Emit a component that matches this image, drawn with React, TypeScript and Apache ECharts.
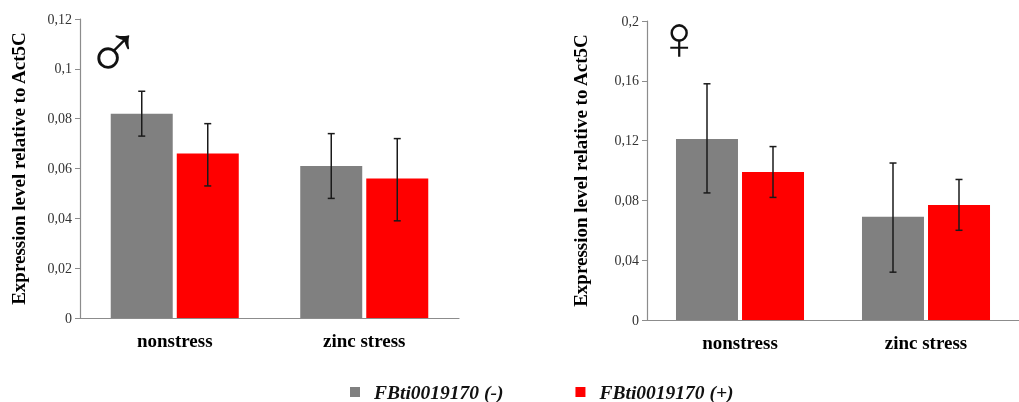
import React, { useEffect, useRef } from "react";
import * as echarts from "echarts";

const categories = ["nonstress", "zinc stress"];
const seriesNames = ["FBti0019170 (-)", "FBti0019170 (+)"];

// Male panel
const maleMinus = [0.082, 0.061];
const malePlus = [0.066, 0.056];
const maleMinusLow = [0.073, 0.048];
const maleMinusHigh = [0.091, 0.074];
const malePlusLow = [0.053, 0.039];
const malePlusHigh = [0.078, 0.072];

// Female panel
const femaleMinus = [0.121, 0.069];
const femalePlus = [0.099, 0.077];
const femaleMinusLow = [0.085, 0.032];
const femaleMinusHigh = [0.158, 0.105];
const femalePlusLow = [0.082, 0.06];
const femalePlusHigh = [0.116, 0.094];

const maleTicks = { min: 0, max: 0.12, interval: 0.02 };
const femaleTicks = { min: 0, max: 0.2, interval: 0.04 };

const GRAY = "#808080";
const RED = "#ff0000";
const FONT = "'Liberation Serif', 'Times New Roman', serif";
const BAR_W = 62;
const OFFSET = 33;

const fmt = (v: number) => (v === 0 ? "0" : String(+v.toFixed(2)).replace(".", ","));

function errData(low: number[], high: number[], side: number) {
  return low.map((l, i) => [i, l, high[i], side]);
}

const renderErr = (params: any, api: any) => {
  const cat = api.value(0);
  const lo = api.coord([cat, api.value(1)]);
  const hi = api.coord([cat, api.value(2)]);
  const x = lo[0] + api.value(3) * OFFSET;
  const cap = 3.5;
  const style = { stroke: "#1a1a1a", lineWidth: 1.5 };
  return {
    type: "group",
    children: [
      { type: "line", shape: { x1: x, y1: lo[1], x2: x, y2: hi[1] }, style },
      { type: "line", shape: { x1: x - cap, y1: lo[1], x2: x + cap, y2: lo[1] }, style },
      { type: "line", shape: { x1: x - cap, y1: hi[1], x2: x + cap, y2: hi[1] }, style },
    ],
  };
};

export default function App() {
  const ref = useRef<HTMLDivElement>(null);
  useEffect(() => {
    if (!ref.current) return;
    const chart = echarts.init(ref.current, null, { renderer: "svg" });
    const xAxisCommon = {
      type: "category",
      data: categories,
      axisLine: { lineStyle: { color: "#8c8c8c", width: 1.2 } },
      axisTick: { show: false },
      axisLabel: { fontFamily: FONT, fontSize: 19, fontWeight: "bold", color: "#000", margin: 13 },
    };
    const yAxisCommon = (t: any, gap: number) => ({
      type: "value",
      min: t.min,
      max: t.max,
      interval: t.interval,
      name: "Expression level relative to Act5C",
      nameLocation: "middle",
      nameGap: gap,
      nameTextStyle: { fontFamily: FONT, fontSize: 19, fontWeight: "bold", color: "#000" },
      splitLine: { show: false },
      axisLine: { show: true, lineStyle: { color: "#8c8c8c", width: 1.2 } },
      axisTick: { show: true, length: 5, lineStyle: { color: "#8c8c8c" } },
      axisLabel: { fontFamily: FONT, fontSize: 14, color: "#333", margin: 8, formatter: fmt },
    });
    const bar = (name: string, data: number[], color: string, idx: number) => ({
      type: "bar",
      name,
      data,
      xAxisIndex: idx,
      yAxisIndex: idx,
      barWidth: BAR_W,
      barGap: "6.5%",
      itemStyle: { color },
    });
    const err = (data: any[], idx: number) => ({
      type: "custom",
      xAxisIndex: idx,
      yAxisIndex: idx,
      data,
      encode: { x: 0, y: [1, 2] },
      renderItem: renderErr,
      z: 10,
      silent: true,
    });
    chart.setOption({
      animation: false,
      grid: [
        { left: 80, top: 19, width: 379, height: 299 },
        { left: 647, top: 21, width: 375, height: 299 },
      ],
      xAxis: [
        { ...xAxisCommon, gridIndex: 0 },
        { ...xAxisCommon, gridIndex: 1 },
      ],
      yAxis: [
        { ...yAxisCommon(maleTicks, 52), gridIndex: 0 },
        { ...yAxisCommon(femaleTicks, 57), gridIndex: 1 },
      ],
      legend: {
        data: seriesNames.map((n) => ({ name: n, icon: "rect" })),
        left: 350,
        top: 382,
        padding: 0,
        itemWidth: 10,
        itemHeight: 10,
        itemGap: 72,
        textStyle: {
          fontFamily: FONT,
          fontSize: 19.5,
          fontWeight: "bold",
          fontStyle: "italic",
          color: "#111",
          padding: [0, 0, 0, 9],
        },
      },
      graphic: [
        {
          type: "text",
          left: 85,
          top: 13,
          style: { text: "♂", fontFamily: "'DejaVu Sans'", fontWeight: 200, fontSize: 76, fill: "#111" },
        },
        {
          type: "text",
          left: 656,
          top: 6,
          style: { text: "♀", fontFamily: "'DejaVu Sans'", fontWeight: 200, fontSize: 62, fill: "#111" },
        },
      ],
      series: [
        bar(seriesNames[0], maleMinus, GRAY, 0),
        bar(seriesNames[1], malePlus, RED, 0),
        err(errData(maleMinusLow, maleMinusHigh, -1), 0),
        err(errData(malePlusLow, malePlusHigh, 1), 0),
        bar(seriesNames[0], femaleMinus, GRAY, 1),
        bar(seriesNames[1], femalePlus, RED, 1),
        err(errData(femaleMinusLow, femaleMinusHigh, -1), 1),
        err(errData(femalePlusLow, femalePlusHigh, 1), 1),
      ],
    });
    return () => chart.dispose();
  }, []);
  return <div ref={ref} style={{ position: "fixed", left: 0, top: 0, width: 1019, height: 402 }} />;
}
